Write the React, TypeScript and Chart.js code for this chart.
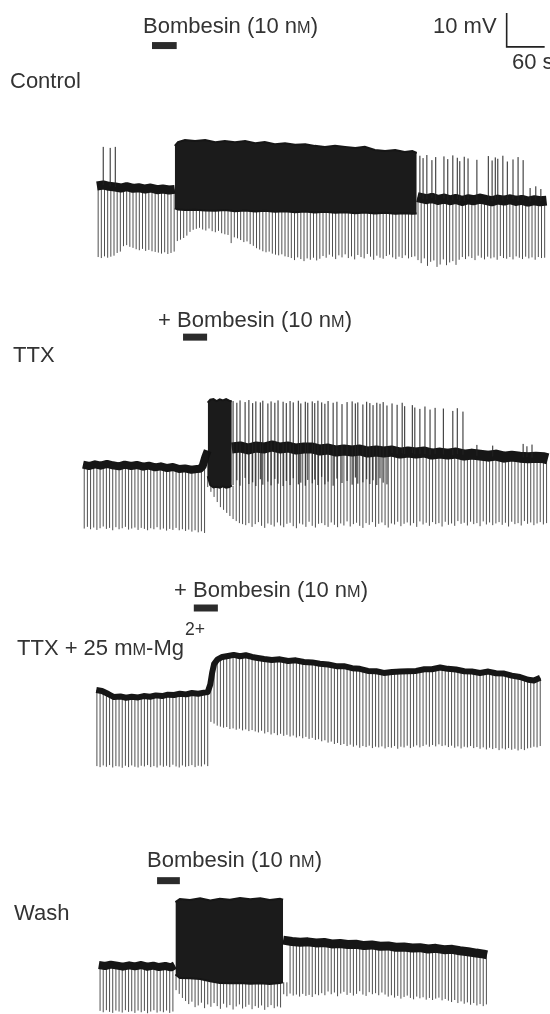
import React, { useEffect, useRef } from "react";
import { Chart, registerables } from "chart.js";
Chart.register(...registerables);

// ---------- scale of the figure (from the 10 mV / 60 s calibration bar) ----------
const S_PER_PX = 60 / 38;
const PX_PER_MV = 3.4;
const X_MAX_S = 550 * S_PER_PX;
const PULSE_PERIOD_S = 5;
const SCALE_MV = 10;
const SCALE_S = 60;

// ---------- Panel 1 : Control ----------
const P1_PULSE_START = 155;
const P1_PULSE_BOTTOM = [
  -20.6, -20.9, -20.4, -20.8, -20.5, -20.2, -19.4, -19.0, -17.4, -17.1, -17.6, -17.9,
  -18.3, -18.6, -18.2, -18.8, -18.5, -18.9, -19.1, -19.3, -19.6, -19.2, -19.7, -19.4, -19.0,
  -15.9, -15.5, -15.0, -14.3, -13.2, -12.6, -12.3,
  -12.0, -12.5, -12.8, -12.2, -13.0, -13.3, -12.9, -13.6, -13.9, -14.1,
  -16.5, -14.8, -15.1, -15.6, -16.2, -16.0, -16.8, -17.3,
  -18.0, -18.4, -18.9, -19.2, -19.0, -19.6, -19.9, -20.1, -19.8, -20.4, -20.6,
  -20.9, -21.5, -20.7, -21.2, -21.8, -21.0, -21.4, -20.8, -21.6, -21.1,
  -20.3, -20.8, -19.9, -20.5, -21.2, -20.1, -20.7, -19.8, -20.9, -20.4,
  -21.3, -20.0, -20.6, -21.0, -19.7, -20.5, -21.4, -20.2, -20.8, -21.1,
  -20.3, -19.9, -20.7, -21.2, -20.5, -20.9, -20.1, -21.0, -20.6, -20.4,
  -21.5, -22.4, -21.0, -23.2, -22.0, -21.6, -23.5, -22.8, -21.3, -23.0, -22.2, -21.8, -22.9, -21.4,
  -20.6, -21.2, -20.4, -20.9, -21.5, -20.2, -20.8, -21.3, -20.5, -21.0,
  -20.7, -21.4, -20.3, -20.9, -21.1, -20.6, -21.3, -20.4, -20.8, -21.2,
  -20.5, -21.0, -20.7, -21.4, -20.6, -20.9, -20.8,
];
const P1_BASE_PRE: [number, number][] = [
  [153, 0.3], [163, 0.6], [172, 0.2], [182, 0.0], [191, -0.3], [200, 0.1], [210, -0.4],
  [219, -0.2], [229, -0.6], [238, -0.3], [248, -0.8], [257, -0.6], [267, -0.9], [276, -0.7],
];
const P1_BASE_POST: [number, number][] = [
  [659, -3.0], [673, -3.6], [682, -3.2], [692, -3.8], [701, -3.4], [711, -3.9], [720, -3.5],
  [730, -4.1], [739, -3.6], [748, -3.9], [758, -3.4], [767, -3.8], [777, -4.2], [786, -3.7],
  [796, -4.0], [805, -3.6], [815, -4.1], [824, -3.8], [834, -4.3], [843, -3.9], [853, -4.2], [863, -4.0],
];
const P1_BAND_T = [276, 281, 292, 308, 324, 340, 355, 371, 387, 403, 418, 434, 450, 466, 482, 497, 513, 529, 545, 561, 576, 592, 608, 624, 639, 651, 658];
const P1_BAND_TOP = [12.1, 13.2, 13.8, 13.5, 13.8, 13.2, 13.5, 13.2, 13.5, 12.9, 13.2, 12.6, 12.9, 12.4, 12.6, 12.1, 11.8, 12.1, 11.8, 11.5, 11.8, 10.9, 10.6, 10.9, 10.3, 10.6, 10.0];
const P1_BAND_BOTTOM = [-6.3, -6.6, -6.8, -6.7, -6.9, -7.0, -6.8, -7.1, -6.9, -7.2, -7.0, -7.3, -7.1, -7.4, -7.2, -7.5, -7.3, -7.6, -7.4, -7.7, -7.5, -7.8, -7.6, -7.9, -7.7, -7.9, -7.8];
const P1_SPIKE_T = [163, 174, 182, 663, 668, 674, 682, 688, 701, 707, 715, 722, 726, 733, 739, 753, 771, 777, 782, 786, 794, 801, 810, 818, 826, 837, 846, 854];
const P1_SPIKE_TOP = [11.8, 11.5, 11.8, 9.2, 8.5, 9.4, 7.9, 8.8, 9.0, 8.2, 9.3, 8.6, 7.6, 8.9, 8.4, 8.0, 9.1, 7.8, 8.7, 8.3, 9.2, 7.5, 8.1, 8.8, 7.9, -0.3, 0.2, -0.6];
const P1_BOMBESIN_S: [number, number] = [240, 279];

// ---------- Panel 2 : TTX ----------
const P2_PULSE_START = 133;
const P2_PULSE_BOTTOM = [
  -18.4, -17.9, -18.6, -18.1, -18.8, -18.3, -17.8, -18.5, -18.2, -18.9,
  -18.0, -18.6, -18.3, -17.9, -18.7, -18.4, -18.1, -18.8, -18.2, -18.5,
  -18.9, -18.3, -18.6, -18.0, -18.7, -18.4, -19.0, -18.5, -18.8, -18.2,
  -18.9, -18.6, -19.1, -18.7, -19.3, -18.9, -19.5, -19.2, -19.7,
  -6.2, -7.6, -9.1, -10.6, -12.1, -12.9, -13.8, -14.7, -15.6, -16.2, -16.8, -17.1,
  -17.4, -16.8, -17.9, -17.1, -16.5, -17.6, -18.2, -16.9, -17.3, -17.8,
  -16.6, -17.5, -18.0, -17.0, -16.7, -17.7, -18.3, -16.9, -17.2, -17.9,
  -16.4, -17.6, -18.1, -17.0, -16.8, -17.4, -17.9, -16.6, -17.3, -18.0,
  -16.9, -17.5, -16.3, -17.8, -17.1, -16.7, -17.6, -18.2, -16.8, -17.3,
  -16.5, -17.9, -17.0, -16.6, -17.4, -18.1, -16.9, -17.2, -16.4, -17.7,
  -17.0, -16.6, -17.5, -16.8, -17.9, -16.3, -17.2, -16.7, -17.6, -16.5,
  -17.1, -16.8, -17.8, -16.4, -17.3, -16.9, -17.6, -16.2, -17.0, -16.7,
  -17.5, -16.4, -17.1, -16.8, -17.7, -16.3, -17.2, -16.6, -17.4, -16.9,
  -16.5, -17.3, -16.7, -17.8, -16.4, -17.1, -16.8, -17.5, -16.2, -17.0,
  -16.6, -17.4, -16.9, -16.5, -17.2, -16.8,
];
const P2_BASE_PRE: [number, number][] = [
  [131, 0.4], [141, 0.0], [150, 0.5], [159, 0.1], [169, 0.6], [178, 0.2], [188, -0.1], [197, 0.4],
  [207, 0.0], [216, 0.3], [226, -0.2], [235, 0.1], [245, -0.4], [254, -0.1], [264, -0.6], [273, -0.3],
  [283, -0.9], [292, -0.7], [302, -1.1], [311, -0.9], [316, -0.8], [320, 0.0], [324, 2.5], [328, 4.5],
];
const P2_BASE_POST: [number, number][] = [
  [366, 5.3], [379, 5.6], [392, 5.0], [404, 5.6], [417, 5.3], [429, 5.9], [442, 5.3], [455, 5.6],
  [467, 5.0], [480, 5.3], [493, 5.3], [505, 4.7], [518, 5.0], [531, 4.4], [543, 4.7], [556, 4.4],
  [568, 4.7], [581, 4.1], [594, 4.4], [606, 4.1], [619, 4.4], [632, 3.8], [644, 4.1], [657, 3.8],
  [670, 4.1], [682, 3.5], [695, 3.8], [707, 3.5], [720, 3.8], [733, 3.2], [745, 3.5], [758, 3.2],
  [771, 2.9], [783, 3.2], [796, 2.6], [808, 2.9], [821, 2.6], [834, 2.4], [846, 2.6], [859, 2.4], [865, 2.1],
];
const P2_BAND_T = [328, 332, 337, 342, 347, 352, 357, 362, 366];
const P2_BAND_TOP = [18.6, 19.5, 19.7, 19.1, 19.6, 19.3, 19.7, 19.2, 19.0];
const P2_BAND_BOTTOM = [-3.0, -5.6, -6.3, -6.1, -6.4, -6.0, -6.4, -6.2, -5.8];
const P2_SPIKE_T = [
  368, 374, 379, 387, 393, 399, 404, 411, 415, 423, 428, 434, 439, 447, 452, 458, 463, 471, 475, 482, 486,
  493, 497, 502, 508, 513, 518, 526, 532, 540, 548, 556, 561, 565, 573, 579, 584, 589, 595, 600, 605, 611,
  619, 627, 635, 639, 651, 655, 663, 671, 679, 687, 700, 715, 722, 731, 753,
  778, 826, 832, 840, 848,
];
const P2_SPIKE_TOP = [
  19.1, 18.6, 19.3, 18.8, 19.4, 18.5, 19.0, 18.7, 19.2, 18.4, 19.0, 18.6, 19.3, 18.9, 18.5, 19.1, 18.7, 19.2, 18.4, 18.9, 18.6,
  19.0, 18.5, 19.2, 18.7, 18.3, 19.1, 18.6, 18.9, 18.2, 18.8, 19.0, 18.4, 18.7, 18.1, 18.9, 18.5, 17.9, 18.6, 18.3, 18.8,
  17.8, 18.4, 18.0, 18.6, 17.6, 17.9, 17.2, 16.8, 17.5, 16.6, 17.1, 16.9, 16.2, 17.0, 16.0,
  6.2, 6.0, 6.5, 5.8, 6.3,
];
const P2_SPIKE_LOW = [
  -5.6, -4.2, -5.8, -3.5, -5.3, -4.8, -5.9, -3.9, -5.5, -4.6, -5.7, -3.8, -5.2, -5.9, -4.4, -5.6, -3.6, -5.4, -4.9, -5.8, -4.1,
  -5.1, -4.0, -5.6, -3.2, -5.4, -4.6, -5.8, -3.7, -5.0, -4.4, -5.5, -3.4, -5.2, -4.8, -3.9, -5.3, -4.2, -5.6, -3.6, -4.9, -5.4,
  3.8, 3.6, 3.7, 3.5, 3.8, 3.4, 3.6, 3.5, 3.3, 3.6, 3.4, 3.2, 3.5, 3.3, 3.0,
  2.8, 2.5, 2.6, 2.4, 2.6,
];
const P2_BOMBESIN_S: [number, number] = [289, 327];

// ---------- Panel 3 : TTX + 25 mM-Mg2+ ----------
const P3_PULSE_START = 153;
const P3_PULSE_BOTTOM = [
  -21.5, -21.8, -21.3, -21.7, -21.2, -21.9, -21.5, -21.6, -22.0, -21.4,
  -21.8, -21.3, -21.7, -21.9, -21.4, -21.6, -21.2, -21.8, -21.5, -21.9,
  -21.3, -21.7, -21.4, -21.8, -21.1, -21.6, -21.9, -21.3, -21.7, -21.5,
  -21.2, -21.8, -21.4, -21.6, -21.0, -21.5,
  -8.5, -9.0, -9.6, -9.9,
  -10.2, -10.0, -10.6, -10.4, -10.8, -10.5, -11.0, -10.7, -11.2, -10.9,
  -11.3, -11.6, -11.1, -11.9, -11.5, -12.2, -11.8, -12.4, -12.0, -12.6,
  -12.3, -12.8, -12.5, -13.1, -12.7, -13.3, -12.9, -13.5, -13.2, -13.8,
  -13.6, -14.2, -13.9, -14.6, -14.3, -15.0, -14.7, -15.3, -15.0, -15.6,
  -15.2, -15.8, -15.4, -16.1, -15.6, -15.9, -15.5, -16.2, -15.8, -16.0,
  -15.7, -16.3, -15.9, -16.1, -15.6, -16.4, -15.8, -16.0, -15.5, -16.2,
  -15.8, -15.4, -16.0, -15.6, -15.2, -15.8, -15.3, -15.7, -15.1, -15.6,
  -15.4, -15.9, -15.5, -16.1, -15.7, -16.3, -15.8, -16.0, -15.6, -16.2,
  -15.9, -16.4, -16.0, -16.6, -16.1, -16.5, -16.2, -16.8, -16.3, -16.6,
  -16.2, -16.7, -16.4, -16.9, -16.5, -16.8, -16.3, -16.1, -15.8, -16.0, -15.6,
];
const P3_BASE: [number, number][] = [
  [152, 0.9], [161, 0.6], [171, -0.3], [180, -1.2], [190, -1.0], [199, -1.4], [208, -1.1], [218, -1.3],
  [227, -0.9], [237, -1.1], [246, -0.7], [256, -0.9], [265, -0.5], [275, -0.6], [284, -0.2], [294, -0.4],
  [303, 0.0], [313, -0.2], [322, 0.1], [328, 0.3], [332, 2.5], [335, 6.0], [338, 8.5], [343, 9.8],
  [351, 10.6], [360, 10.9], [369, 11.2], [379, 10.8], [388, 11.1], [398, 10.6], [407, 10.3], [417, 10.0],
  [429, 9.7], [442, 9.9], [455, 9.4], [467, 9.6], [480, 9.1], [493, 9.0], [505, 8.6], [518, 8.4],
  [531, 7.9], [543, 7.9], [556, 7.3], [568, 7.1], [581, 6.5], [594, 6.4], [606, 5.9], [619, 6.2],
  [632, 6.3], [644, 6.4], [657, 6.5], [670, 7.0], [682, 7.0], [695, 7.5], [707, 7.1], [720, 6.9],
  [733, 6.4], [745, 6.3], [758, 5.9], [771, 6.3], [783, 5.8], [796, 5.7], [808, 5.1], [821, 4.7],
  [834, 3.9], [843, 3.7], [853, 4.5],
];
const P3_BOMBESIN_S: [number, number] = [306, 344];

// ---------- Panel 4 : Wash ----------
const P4_PULSE_START = 158;
const P4_PULSE_BOTTOM = [
  -13.2, -13.6, -13.0, -13.5, -13.8, -13.1, -13.4, -13.7, -13.0, -13.5,
  -13.3, -13.8, -13.1, -13.6, -13.2, -13.9, -13.4, -13.0, -13.7, -13.3,
  -13.6, -13.1, -13.8, -13.4,
  -7.1, -8.2, -9.4, -10.3,
  -11.2, -10.5, -12.1, -11.6, -10.8, -12.4, -11.3, -12.0, -10.9, -11.8,
  -12.6, -11.1, -12.2, -11.5, -12.8, -11.9, -11.3, -12.5, -12.0, -11.4,
  -12.7, -11.8, -12.3, -11.6, -12.9, -12.1, -11.5, -12.4, -11.9, -12.2,
  -8.3, -8.9, -8.1, -8.7, -8.4, -9.0, -8.2, -8.8, -8.5, -9.1, -8.3, -8.6,
  -8.0, -8.6, -7.5, -8.3, -7.8, -8.9, -8.1, -7.6, -8.5, -7.9, -8.7, -8.2, -7.4, -8.4, -8.8, -7.7, -8.3, -8.0, -8.6, -7.8,
  -8.4, -9.0, -8.6, -9.3, -8.8, -9.6, -9.1, -8.7, -9.4, -9.8, -9.0, -9.5, -9.2, -9.9, -9.4, -10.0, -9.6, -9.3, -10.1, -9.7,
  -10.2, -10.6, -10.0, -10.9, -10.4, -11.1, -10.7, -11.4, -10.9, -11.6, -11.2, -11.8, -11.3,
];
const P4_BASE_PRE: [number, number][] = [
  [156, 0.3], [166, 0.0], [175, 0.4], [185, 0.1], [194, -0.2], [204, 0.2], [213, -0.1],
  [223, 0.3], [232, -0.2], [242, 0.1], [251, -0.3], [261, 0.0], [270, -0.4], [276, 0.2],
];
const P4_BASE_POST: [number, number][] = [
  [447, 7.6], [461, 7.2], [474, 7.0], [486, 7.1], [499, 6.8], [512, 6.9], [524, 6.5], [537, 6.6],
  [549, 6.3], [562, 6.4], [575, 6.0], [587, 6.2], [600, 5.8], [613, 5.9], [625, 5.5], [638, 5.6],
  [651, 5.3], [663, 5.4], [676, 5.0], [688, 5.2], [701, 4.8], [714, 4.9], [726, 4.5], [739, 4.2],
  [752, 3.8], [764, 3.5], [769, 3.3],
];
const P4_BAND_T = [277, 284, 300, 316, 332, 347, 363, 379, 395, 411, 426, 442, 447];
const P4_BAND_TOP = [18.8, 19.7, 19.4, 19.9, 19.3, 19.8, 19.5, 20.0, 19.6, 19.9, 19.4, 19.8, 19.5];
const P4_BAND_BOTTOM = [-2.5, -3.5, -3.6, -3.8, -4.5, -5.0, -5.1, -5.0, -5.2, -5.1, -5.3, -5.0, -4.8];
const P4_BOMBESIN_S: [number, number] = [248, 284];

// ---------- layout / styling ----------
type Series = [number, number][];
interface PanelCfg {
  top: number; height: number; zeroY: number;
  pulseStart: number; pulseBottoms: number[];
  basePre: Series; basePost: Series | null;
  band: { t: number[]; top: number[]; bottom: number[] } | null;
  spikes: { t: number[]; top: number[]; low?: number[] } | null;
  bar: [number, number]; barLevel: number;
  widthPre: number; widthPost: number;
  scaleBar?: { t0: number; v0: number };
}

const PANELS: PanelCfg[] = [
  {
    top: 0, height: 280, zeroY: 187,
    pulseStart: P1_PULSE_START, pulseBottoms: P1_PULSE_BOTTOM,
    basePre: P1_BASE_PRE, basePost: P1_BASE_POST,
    band: { t: P1_BAND_T, top: P1_BAND_TOP, bottom: P1_BAND_BOTTOM },
    spikes: { t: P1_SPIKE_T, top: P1_SPIKE_TOP },
    bar: P1_BOMBESIN_S, barLevel: 41.6, widthPre: 9, widthPost: 10,
    scaleBar: { t0: 800, v0: 41.2 },
  },
  {
    top: 300, height: 240, zeroY: 466,
    pulseStart: P2_PULSE_START, pulseBottoms: P2_PULSE_BOTTOM,
    basePre: P2_BASE_PRE, basePost: P2_BASE_POST,
    band: { t: P2_BAND_T, top: P2_BAND_TOP, bottom: P2_BAND_BOTTOM },
    spikes: { t: P2_SPIKE_T, top: P2_SPIKE_TOP, low: P2_SPIKE_LOW },
    bar: P2_BOMBESIN_S, barLevel: 37.9, widthPre: 8, widthPost: 11,
  },
  {
    top: 560, height: 220, zeroY: 693,
    pulseStart: P3_PULSE_START, pulseBottoms: P3_PULSE_BOTTOM,
    basePre: P3_BASE, basePost: null, band: null, spikes: null,
    bar: P3_BOMBESIN_S, barLevel: 25.0, widthPre: 6, widthPost: 6,
  },
  {
    top: 840, height: 174, zeroY: 966,
    pulseStart: P4_PULSE_START, pulseBottoms: P4_PULSE_BOTTOM,
    basePre: P4_BASE_PRE, basePost: P4_BASE_POST,
    band: { t: P4_BAND_T, top: P4_BAND_TOP, bottom: P4_BAND_BOTTOM },
    spikes: null,
    bar: P4_BOMBESIN_S, barLevel: 25.1, widthPre: 8, widthPost: 9,
  },
];

const INK = "#161616";
const PULSE_INK = "rgba(30,30,30,0.78)";

function nearestLevel(level: Series, t: number): number {
  let best = level[0];
  for (const p of level) if (Math.abs(p[0] - t) < Math.abs(best[0] - t)) best = p;
  return best[1];
}

function vlines(ts: number[], lows: number[], highs: number[]) {
  const out: { x: number; y: number | null }[] = [];
  ts.forEach((t, i) => {
    out.push({ x: t, y: lows[i] }, { x: t, y: highs[i] }, { x: t, y: null });
  });
  return out;
}

function buildDatasets(cfg: PanelCfg) {
  const ds: any[] = [];
  const level: Series = [
    ...cfg.basePre,
    ...(cfg.band ? cfg.band.t.map((t, i) => [t, cfg.band!.bottom[i]] as [number, number]) : []),
    ...(cfg.basePost || []),
  ];
  const pts = cfg.pulseBottoms.map((_, i) => cfg.pulseStart + i * PULSE_PERIOD_S);
  const tops = pts.map((t) => nearestLevel(level, t));
  ds.push({ data: vlines(pts, cfg.pulseBottoms, tops), borderColor: PULSE_INK, borderWidth: 1, order: 6, borderCapStyle: "butt" });
  const toXY = (s: Series) => s.map(([x, y]) => ({ x, y }));
  ds.push({ data: toXY(cfg.basePre), borderColor: INK, borderWidth: cfg.widthPre, order: 4, borderJoinStyle: "round" });
  if (cfg.basePost) ds.push({ data: toXY(cfg.basePost), borderColor: INK, borderWidth: cfg.widthPost, order: 4, borderJoinStyle: "round" });
  if (cfg.band) {
    const b = cfg.band;
    const idx = ds.length;
    ds.push({ data: b.t.map((x, i) => ({ x, y: b.bottom[i] })), borderColor: INK, borderWidth: 2, order: 3 });
    ds.push({ data: b.t.map((x, i) => ({ x, y: b.top[i] })), borderColor: INK, borderWidth: 2, order: 3, fill: { target: idx }, backgroundColor: "rgba(18,18,18,0.96)" });
  }
  if (cfg.spikes) {
    const sp = cfg.spikes;
    const lows = sp.low ? sp.low : sp.t.map((t) => nearestLevel(level, t));
    ds.push({ data: vlines(sp.t, lows, sp.top), borderColor: "#222", borderWidth: 1, order: 2 });
  }
  ds.push({ data: [{ x: cfg.bar[0], y: cfg.barLevel }, { x: cfg.bar[1], y: cfg.barLevel }], borderColor: "#2b2b2b", borderWidth: 7, order: 1, borderCapStyle: "butt" });
  if (cfg.scaleBar) {
    const { t0, v0 } = cfg.scaleBar;
    ds.push({ data: [{ x: t0, y: v0 + SCALE_MV }, { x: t0, y: v0 }, { x: t0 + SCALE_S, y: v0 }], borderColor: "#222", borderWidth: 1.6, order: 1 });
  }
  return ds;
}

function Panel({ cfg }: { cfg: PanelCfg }) {
  const ref = useRef<HTMLCanvasElement | null>(null);
  useEffect(() => {
    if (!ref.current) return;
    const yMax = (cfg.zeroY - cfg.top) / PX_PER_MV;
    const yMin = -(cfg.top + cfg.height - cfg.zeroY) / PX_PER_MV;
    const chart = new Chart(ref.current, {
      type: "line",
      data: { datasets: buildDatasets(cfg) },
      options: {
        animation: false,
        responsive: false,
        devicePixelRatio: 1,
        events: [],
        layout: { padding: 0 },
        plugins: { legend: { display: false }, tooltip: { enabled: false } },
        elements: { point: { radius: 0 }, line: { tension: 0, fill: false } },
        scales: {
          x: { type: "linear", min: 0, max: X_MAX_S, display: false },
          y: { type: "linear", min: yMin, max: yMax, display: false },
        },
      } as any,
    });
    return () => chart.destroy();
  }, []);
  return (
    <canvas
      ref={ref}
      width={550}
      height={cfg.height}
      style={{ position: "absolute", left: 0, top: cfg.top, width: 550, height: cfg.height }}
    />
  );
}

const FONT = '"Liberation Sans", Arial, Helvetica, sans-serif';
function Lbl({ x, capTop, children, size = 22 }: { x: number; capTop: number; children: React.ReactNode; size?: number }) {
  return (
    <div
      style={{
        position: "absolute", left: x, top: capTop - size * 0.13, fontFamily: FONT, fontSize: size,
        lineHeight: `${size}px`, color: "#333", whiteSpace: "nowrap",
      }}
    >
      {children}
    </div>
  );
}
const SmallM = () => <span style={{ fontSize: "0.74em" }}>M</span>;
const Bomb = () => (
  <>
    Bombesin (10 n<SmallM />)
  </>
);

export default function App() {
  return (
    <div style={{ position: "absolute", left: 0, top: 0, width: 550, height: 1014, background: "#fff", overflow: "hidden" }}>
      {PANELS.map((p, i) => (
        <Panel key={i} cfg={p} />
      ))}
      <Lbl x={143} capTop={18}><Bomb /></Lbl>
      <Lbl x={433} capTop={18}>10 mV</Lbl>
      <Lbl x={512} capTop={54}>60 s</Lbl>
      <Lbl x={10} capTop={73}>Control</Lbl>
      <Lbl x={158} capTop={312}>+ <Bomb /></Lbl>
      <Lbl x={13} capTop={347}>TTX</Lbl>
      <Lbl x={174} capTop={582}>+ <Bomb /></Lbl>
      <Lbl x={17} capTop={640}>
        TTX + 25 m<SmallM />-Mg
        <span style={{ fontSize: "0.8em", position: "relative", top: "-20px", marginLeft: 1 }}>2+</span>
      </Lbl>
      <Lbl x={147} capTop={852}><Bomb /></Lbl>
      <Lbl x={14} capTop={905}>Wash</Lbl>
    </div>
  );
}
